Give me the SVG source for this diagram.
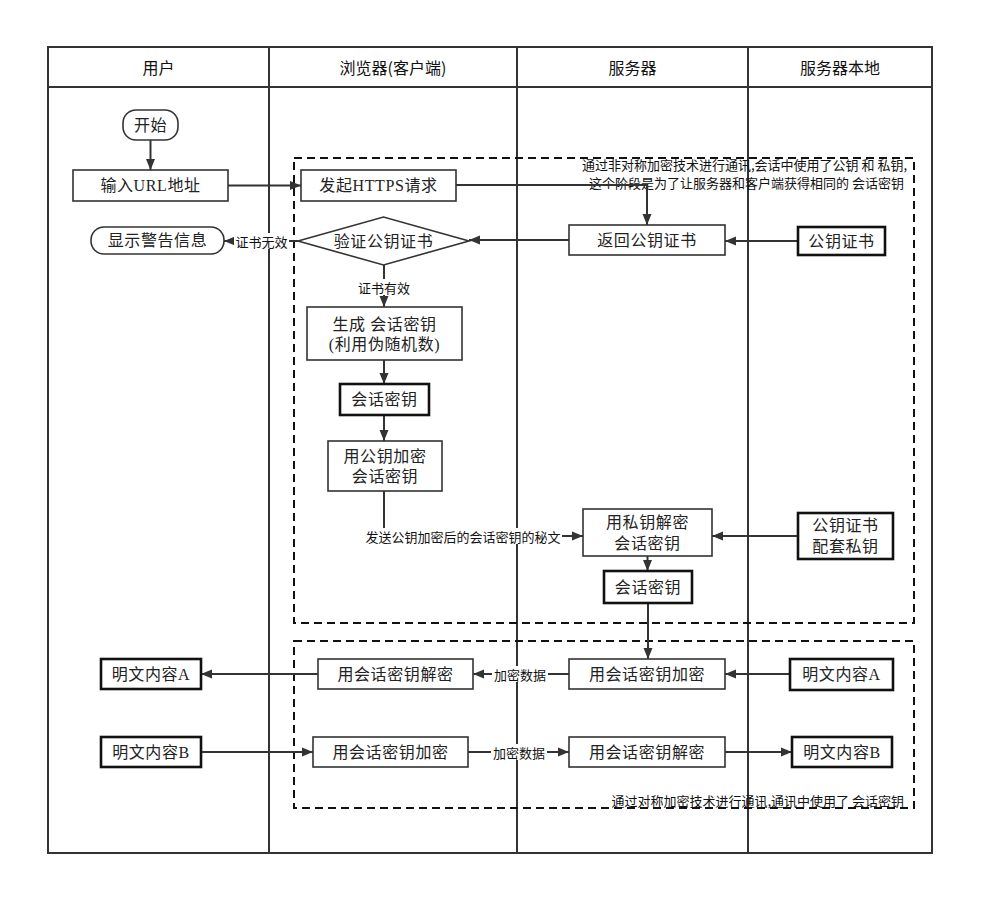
<svg xmlns="http://www.w3.org/2000/svg" width="994" height="916" viewBox="0 0 994 916">
<defs>
<marker id="ah" markerUnits="userSpaceOnUse" markerWidth="12" markerHeight="10" refX="11" refY="5" orient="auto">
<path d="M0,0.5 L11,5 L0,9.5 z" fill="#333"/>
</marker>
<style>
.lane{fill:none;stroke:#333;stroke-width:2}
.hd{font-family:"Noto Sans CJK SC",sans-serif;font-size:16px;fill:#111;text-anchor:middle;dominant-baseline:central}
.box{fill:#fff;stroke:#333;stroke-width:1.6}
.bold{fill:#fff;stroke:#111;stroke-width:2.6}
.t{font-family:"Liberation Serif","Noto Sans CJK SC",serif;font-size:16px;fill:#222;text-anchor:middle;dominant-baseline:central;letter-spacing:0.6px}
.lbl{font-family:"Noto Sans CJK SC",sans-serif;font-size:13px;fill:#111;text-anchor:middle;dominant-baseline:central}
.note{font-family:"Noto Sans CJK SC",sans-serif;font-size:13px;fill:#111;text-anchor:end;dominant-baseline:central}
.dash{fill:none;stroke:#111;stroke-width:2;stroke-dasharray:8,5}
.c{fill:none;stroke:#333;stroke-width:2;marker-end:url(#ah)}
.bg{fill:#fff}
</style>
</defs>
<rect width="994" height="916" fill="#fff"/>
<g id="lanes">
<rect class="lane" x="48" y="47" width="884" height="806"/>
<line class="lane" x1="48" y1="87" x2="932" y2="87"/>
<line class="lane" x1="269" y1="47" x2="269" y2="853"/>
<line class="lane" x1="517" y1="47" x2="517" y2="853"/>
<line class="lane" x1="748" y1="47" x2="748" y2="853"/>
<text class="hd" x="158.5" y="67">用户</text>
<text class="hd" x="393" y="67">浏览器(客户端)</text>
<text class="hd" x="632.5" y="67">服务器</text>
<text class="hd" x="840" y="67">服务器本地</text>
</g>
<g id="phases">
<rect class="dash" x="294" y="158" width="620" height="465"/>
<rect class="dash" x="294" y="641" width="620" height="167"/>
<text class="note" x="907" y="164">通过非对称加密技术进行通讯,会话中使用了公钥 和 私钥,</text>
<text class="note" x="904" y="182">这个阶段是为了让服务器和客户端获得相同的 会话密钥</text>
<text class="note" x="904" y="800">通过对称加密技术进行通讯,通讯中使用了 会话密钥</text>
</g>
<g id="connectors">
<path class="c" d="M150.5,140 V170"/>
<path class="c" d="M228,185.5 H301"/>
<path class="c" d="M456,185 H647 V225"/>
<path class="c" d="M798,241 H725"/>
<path class="c" d="M569,240 H469"/>
<path class="c" d="M298,241 H224"/>
<rect class="bg" x="234" y="233" width="55" height="16"/>
<text class="lbl" x="261.5" y="241">证书无效</text>
<path class="c" d="M384,265 V307"/>
<rect class="bg" x="357" y="279" width="54" height="16"/>
<text class="lbl" x="384" y="287">证书有效</text>
<path class="c" d="M384,360 V384"/>
<path class="c" d="M384,415 V441"/>
<path class="c" d="M384,491 V536 H583"/>
<rect class="bg" x="364" y="528" width="198" height="16"/>
<text class="lbl" x="463" y="536">发送公钥加密后的会话密钥的秘文</text>
<path class="c" d="M798,536 H712"/>
<path class="c" d="M647.5,556 V571"/>
<path class="c" d="M648,603 V659"/>
<path class="c" d="M569,674 H473"/>
<rect class="bg" x="492" y="666" width="56" height="16"/>
<text class="lbl" x="520" y="674">加密数据</text>
<path class="c" d="M790,674 H725"/>
<path class="c" d="M318,674 H201"/>
<path class="c" d="M201,752 H313"/>
<path class="c" d="M468,752 H569"/>
<rect class="bg" x="491" y="744" width="56" height="16"/>
<text class="lbl" x="519" y="752">加密数据</text>
<path class="c" d="M725,752 H792"/>
</g>
<g id="start"><rect class="box" x="123" y="110" width="55" height="30" rx="13"/><text class="t" x="150.5" y="125">开始</text></g>
<g id="inputUrl"><rect class="box" x="73" y="170" width="155" height="31"/><text class="t" x="150.5" y="185.5">输入URL地址</text></g>
<g id="httpsReq"><rect class="box" x="301" y="170" width="155" height="31"/><text class="t" x="378.5" y="185.5">发起HTTPS请求</text></g>
<g id="verify"><polygon class="box" points="298,241 383.5,217 469,241 383.5,265"/><text class="t" x="383.5" y="241">验证公钥证书</text></g>
<g id="warn"><rect class="box" x="91" y="227" width="133" height="27" rx="13"/><text class="t" x="157.5" y="240.5">显示警告信息</text></g>
<g id="returnCert"><rect class="box" x="569" y="225" width="156" height="30"/><text class="t" x="647" y="240">返回公钥证书</text></g>
<g id="cert"><rect class="bold" x="798" y="227" width="87" height="28"/><text class="t" x="841.5" y="241">公钥证书</text></g>
<g id="genKey"><rect class="box" x="307" y="307" width="155" height="53"/><text class="t" x="384.5" y="324.5">生成 会话密钥</text><text class="t" x="384.5" y="344.5">(利用伪随机数)</text></g>
<g id="sessionKey1"><rect class="bold" x="340" y="384" width="89" height="31"/><text class="t" x="384.5" y="399.5">会话密钥</text></g>
<g id="encKey"><rect class="box" x="328" y="441" width="114" height="50"/><text class="t" x="385" y="456">用公钥加密</text><text class="t" x="385" y="476">会话密钥</text></g>
<g id="decKey"><rect class="box" x="583" y="509" width="129" height="47"/><text class="t" x="647.5" y="522">用私钥解密</text><text class="t" x="647.5" y="543">会话密钥</text></g>
<g id="privKey"><rect class="bold" x="798" y="513" width="95" height="46"/><text class="t" x="845.5" y="525">公钥证书</text><text class="t" x="845.5" y="546">配套私钥</text></g>
<g id="sessionKey2"><rect class="bold" x="604" y="571" width="88" height="32"/><text class="t" x="648" y="587">会话密钥</text></g>
<g id="serverEnc"><rect class="box" x="569" y="659" width="156" height="30"/><text class="t" x="647" y="674">用会话密钥加密</text></g>
<g id="plainA_r"><rect class="bold" x="790" y="659" width="103" height="31"/><text class="t" x="841.5" y="674.5">明文内容A</text></g>
<g id="browserDec"><rect class="box" x="318" y="659" width="155" height="30"/><text class="t" x="395.5" y="674">用会话密钥解密</text></g>
<g id="plainA_l"><rect class="bold" x="101" y="659" width="100" height="30"/><text class="t" x="151" y="674">明文内容A</text></g>
<g id="plainB_l"><rect class="bold" x="101" y="737" width="100" height="30"/><text class="t" x="151" y="752">明文内容B</text></g>
<g id="browserEnc"><rect class="box" x="313" y="737" width="155" height="30"/><text class="t" x="390.5" y="752">用会话密钥加密</text></g>
<g id="serverDec"><rect class="box" x="569" y="737" width="156" height="30"/><text class="t" x="647" y="752">用会话密钥解密</text></g>
<g id="plainB_r"><rect class="bold" x="792" y="737" width="100" height="30"/><text class="t" x="842" y="752">明文内容B</text></g>
</svg>
